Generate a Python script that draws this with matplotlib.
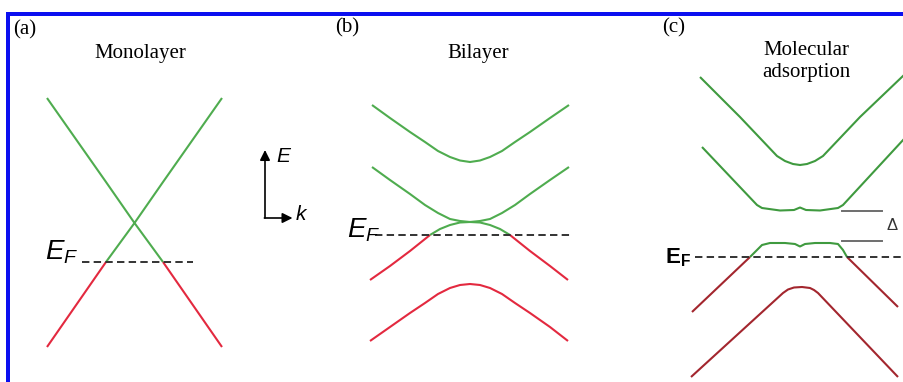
import numpy as np
import matplotlib
matplotlib.use("Agg")
import matplotlib.pyplot as plt
from matplotlib.lines import Line2D

plt.rcParams['mathtext.fontset'] = 'custom'
plt.rcParams['mathtext.it'] = 'Liberation Sans:italic'
plt.rcParams['mathtext.rm'] = 'Liberation Sans'
plt.rcParams['mathtext.bf'] = 'Liberation Sans:bold'

# ---------------- data (k, E in arbitrary units; E measured from E_F) ----------------
panel_labels = ["(a)", "(b)", "(c)"]
panel_titles = ["Monolayer", "Bilayer", "Molecular\nadsorption"]

# (a) monolayer: Dirac cone
mono_k = [-0.875, -0.285, 0.0, 0.285, 0.875]
mono_upper_E = [1.64, 0.80, 0.39, 0.80, 1.64]
mono_lower_E = [-0.85, 0.00, 0.39, 0.00, -0.85]
mono_ef_k = [-0.525, 0.585]

# (b) bilayer: four bands
bi_k_hi = [-0.98, -0.80, -0.60, -0.45, -0.32, -0.20, -0.10, 0.0, 0.10, 0.20, 0.32, 0.45, 0.60, 0.80, 0.99]
bi_band1_E = [1.30, 1.17, 1.03, 0.93, 0.84, 0.78, 0.745, 0.73, 0.745, 0.78, 0.84, 0.93, 1.03, 1.17, 1.30]
bi_band2_E = [0.68, 0.55, 0.41, 0.30, 0.22, 0.16, 0.14, 0.13, 0.14, 0.16, 0.22, 0.30, 0.41, 0.55, 0.68]
bi_k_lo = [-1.00, -0.80, -0.60, -0.40, -0.30, -0.20, -0.10, 0.0, 0.10, 0.20, 0.30, 0.40, 0.60, 0.80, 0.98]
bi_band3_E = [-0.45, -0.31, -0.16, 0.00, 0.06, 0.10, 0.125, 0.13, 0.125, 0.10, 0.06, 0.00, -0.16, -0.31, -0.45]
bi_k_bot = [-1.00, -0.80, -0.60, -0.45, -0.32, -0.20, -0.10, 0.0, 0.10, 0.20, 0.32, 0.45, 0.60, 0.80, 0.98]
bi_band4_E = [-1.06, -0.92, -0.78, -0.68, -0.59, -0.53, -0.50, -0.49, -0.50, -0.53, -0.59, -0.68, -0.78, -0.92, -1.06]
bi_ef_k = [-0.95, 1.03]

# (c) molecular adsorption: gapped bands
mol_band1_k = [-1.00, -0.60, -0.23, -0.15, -0.07, 0.00, 0.07, 0.15, 0.23, 0.60, 1.04]
mol_band1_E = [1.80, 1.40, 1.01, 0.96, 0.93, 0.92, 0.93, 0.96, 1.01, 1.40, 1.82]
mol_band2_k = [-0.98, -0.43, -0.38, -0.20, -0.06, 0.00, 0.06, 0.20, 0.38, 0.43, 1.04]
mol_band2_E = [1.10, 0.52, 0.49, 0.465, 0.47, 0.495, 0.47, 0.465, 0.49, 0.52, 1.18]
mol_band3_k = [-1.08, -0.50, -0.44, -0.38, -0.30, -0.15, -0.05, 0.00, 0.05, 0.15, 0.30, 0.38, 0.43, 0.47, 0.98]
mol_band3_E = [-0.55, 0.00, 0.06, 0.12, 0.14, 0.14, 0.13, 0.105, 0.13, 0.14, 0.14, 0.13, 0.07, 0.00, -0.50]
mol_band4_k = [-1.09, -0.17, -0.12, -0.06, 0.02, 0.10, 0.14, 0.18, 0.98]
mol_band4_E = [-1.20, -0.36, -0.325, -0.305, -0.30, -0.31, -0.33, -0.36, -1.20]
mol_ef_k = [-1.05, 1.05]
gap_edges_E = [0.46, 0.16]
gap_marker_k = [0.42, 0.82]

# ---------------- styling ----------------
GREEN_AB = "#4fac4f"
RED_AB = "#e3293f"
GREEN_C = "#3f9a3f"
RED_C = "#a3262e"
DASH_COLOR = "#333333"
LW = 1.5
SANS = "Liberation Sans"
SERIF = "Liberation Serif"

W, H = 904, 382
PX = 100.0  # pixels per data unit

fig = plt.figure(figsize=(W / 100, H / 100), dpi=100)
fig.patch.set_facecolor("white")


def make_panel(x0, x1, xc, yef):
    ax = fig.add_axes([x0 / W, 0, (x1 - x0) / W, 1])
    ax.set_xlim((x0 - xc) / PX, (x1 - xc) / PX)
    ax.set_ylim((yef - H) / PX, yef / PX)
    ax.axis("off")
    return ax


def plot_band(ax, k, E, up, down):
    k = np.asarray(k, float)
    E = np.asarray(E, float)
    ax.plot(k, np.ma.masked_where(E < 0, E), color=up, lw=LW, solid_capstyle="butt")
    ax.plot(k, np.ma.masked_where(E > 0, E), color=down, lw=LW, solid_capstyle="butt")


def ef_line(ax, kr):
    ax.plot(kr, [0, 0], color=DASH_COLOR, lw=1.4, dashes=(3.8, 2.2))


# ---- panel (a)
axa = make_panel(10, 320, 134.5, 262)
plot_band(axa, mono_k, mono_upper_E, GREEN_AB, RED_AB)
plot_band(axa, mono_k, mono_lower_E, GREEN_AB, RED_AB)
ef_line(axa, mono_ef_k)
axa.text(-0.895, 0.02, r"$E_F$", fontsize=20, ha="left", va="baseline")
axa.text(-1.095, 2.32, panel_labels[0], family=SERIF, fontsize=15, ha="center", va="center")
axa.text(0.06, 2.04, panel_titles[0], family=SERIF, fontsize=15, ha="center", va="baseline")
# E-k axes sketch
ox, oy = 1.305, 0.44
arrow_kw = dict(arrowstyle="-|>", lw=1.2, color="k", mutation_scale=15, shrinkA=0, shrinkB=0)
axa.annotate("", xy=(ox, 1.12), xytext=(ox, oy), arrowprops=arrow_kw)
axa.annotate("", xy=(1.58, oy), xytext=(ox - 0.006, oy), arrowprops=arrow_kw)
axa.text(1.42, 1.05, "E", fontsize=15, style="italic", family=SANS, ha="left", va="center")
axa.text(1.61, 0.47, "k", fontsize=15, style="italic", family=SANS, ha="left", va="center")

# ---- panel (b)
axb = make_panel(320, 620, 470, 235)
plot_band(axb, bi_k_hi, bi_band1_E, GREEN_AB, RED_AB)
plot_band(axb, bi_k_hi, bi_band2_E, GREEN_AB, RED_AB)
plot_band(axb, bi_k_lo, bi_band3_E, GREEN_AB, RED_AB)
plot_band(axb, bi_k_bot, bi_band4_E, GREEN_AB, RED_AB)
ef_line(axb, bi_ef_k)
axb.text(-1.23, -0.03, r"$E_F$", fontsize=20, ha="left", va="baseline")
axb.text(-1.23, 2.07, panel_labels[1], family=SERIF, fontsize=15, ha="center", va="center")
axb.text(0.08, 1.77, panel_titles[1], family=SERIF, fontsize=15, ha="center", va="baseline")

# ---- panel (c)
axc = make_panel(620, 904, 800, 257)
plot_band(axc, mol_band1_k, mol_band1_E, GREEN_C, RED_C)
plot_band(axc, mol_band2_k, mol_band2_E, GREEN_C, RED_C)
plot_band(axc, mol_band3_k, mol_band3_E, GREEN_C, RED_C)
plot_band(axc, mol_band4_k, mol_band4_E, GREEN_C, RED_C)
ef_line(axc, mol_ef_k)
for e in gap_edges_E:
    axc.plot(gap_marker_k, [e, e], color="#6e6e6e", lw=1.4)
axc.text(0.92, np.mean(gap_edges_E), "\u0394", family=SANS, fontsize=12,
         color="#333333", ha="center", va="center")
axc.text(-1.35, -0.06, r"$\mathbf{E}_\mathbf{F}$", fontsize=16, ha="left", va="baseline")
axc.text(-1.26, 2.29, panel_labels[2], family=SERIF, fontsize=15, ha="center", va="center")
t1, t2 = panel_titles[2].split("\n")
axc.text(0.06, 2.02, t1, family=SERIF, fontsize=15, ha="center", va="baseline")
axc.text(0.06, 1.80, t2, family=SERIF, fontsize=15, ha="center", va="baseline")

# ---- blue frame
BLUE = "#0b0ff0"
bw = 4 * 72 / 100
fig.add_artist(Line2D([6 / W, 1.0], [(H - 14) / H] * 2, color=BLUE, lw=bw,
                      transform=fig.transFigure, solid_capstyle="butt"))
fig.add_artist(Line2D([8 / W] * 2, [0, (H - 12) / H], color=BLUE, lw=bw,
                      transform=fig.transFigure, solid_capstyle="butt"))

fig.savefig("out.png", dpi=100, facecolor="white")
